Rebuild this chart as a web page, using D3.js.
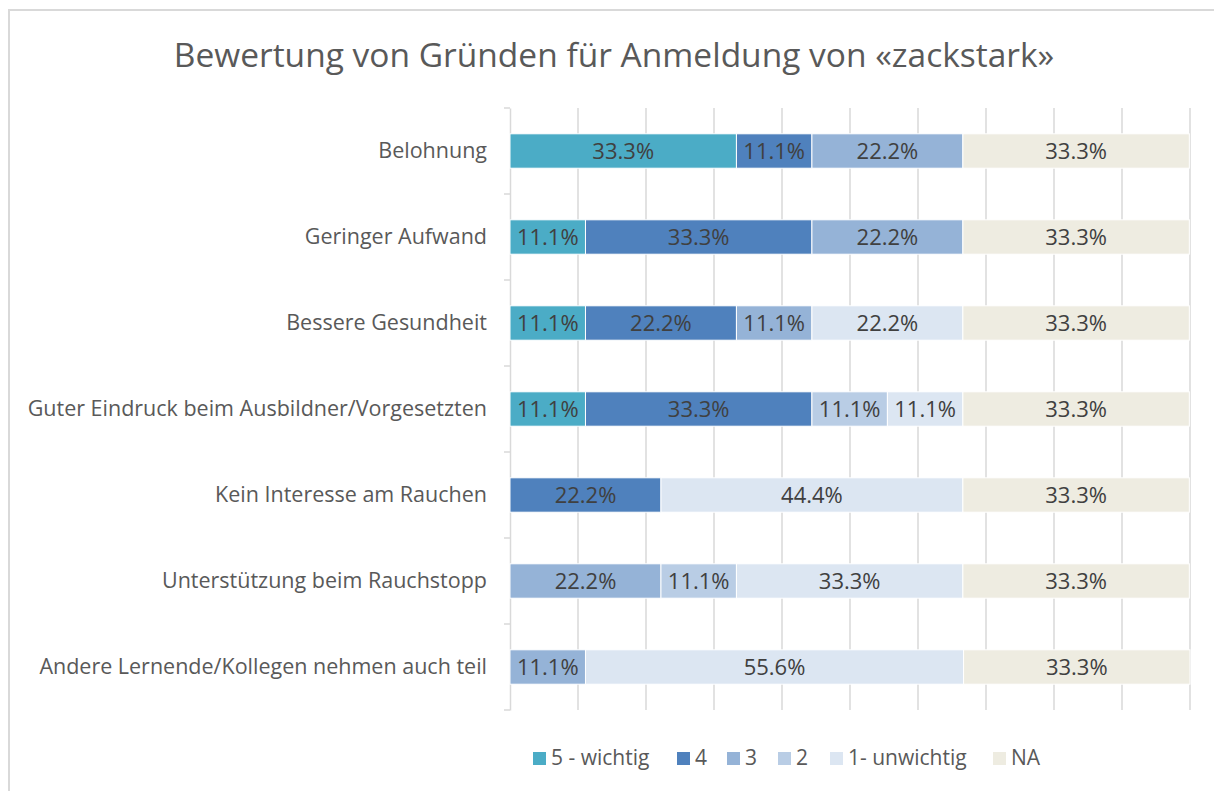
<!DOCTYPE html>
<html>
<head>
<meta charset="utf-8">
<script src="https://cdn.jsdelivr.net/npm/d3@7"></script>
<style>
  body { margin: 0; background: #fff; }
  text { font-family: "Open Sans", sans-serif; }
</style>
</head>
<body>
<svg width="1214" height="791"></svg>
<script>
// categories (top to bottom)
var categories = [
  "Belohnung",
  "Geringer Aufwand",
  "Bessere Gesundheit",
  "Guter Eindruck beim Ausbildner/Vorgesetzten",
  "Kein Interesse am Rauchen",
  "Unterstützung beim Rauchstopp",
  "Andere Lernende/Kollegen nehmen auch teil"
];

var seriesNames = ["5 - wichtig", "4", "3", "2", "1- unwichtig", "NA"];

// percentages per series, one value per category
var s5  = [33.3, 11.1, 11.1, 11.1, 0, 0, 0];
var s4  = [11.1, 33.3, 22.2, 33.3, 22.2, 0, 0];
var s3  = [22.2, 22.2, 11.1, 0, 0, 22.2, 11.1];
var s2  = [0, 0, 0, 11.1, 0, 11.1, 0];
var s1  = [0, 0, 22.2, 11.1, 44.4, 33.3, 55.6];
var sNA = [33.3, 33.3, 33.3, 33.3, 33.3, 33.3, 33.3];

var xTicks = [0, 10, 20, 30, 40, 50, 60, 70, 80, 90, 100];

var colors = ["#4BACC6", "#4F81BD", "#95B3D7", "#B9CDE5", "#DCE6F2", "#EEECE1"];

var svg = d3.select("svg"),
    margin = {top: 108, right: 24, bottom: 81, left: 510},
    width = 1214 - margin.left - margin.right,
    height = 791 - margin.top - margin.bottom;

// chart border
svg.append("path")
    .attr("d", "M9,791 V10 H1214")
    .attr("fill", "none")
    .attr("stroke", "#D9D9D9")
    .attr("stroke-width", 2);

svg.append("text")
    .attr("x", 614)
    .attr("y", 67)
    .attr("text-anchor", "middle")
    .attr("fill", "#595959")
    .style("font-size", "33.5px")
    .text("Bewertung von Gründen für Anmeldung von «zackstark»");

var table = categories.map(function(c, i) {
  return {cat: c, s0: s5[i], s1: s4[i], s2: s3[i], s3: s2[i], s4: s1[i], s5: sNA[i]};
});
var keys = ["s0", "s1", "s2", "s3", "s4", "s5"];
var stacked = d3.stack().keys(keys)(table);

var x = d3.scaleLinear().domain([0, 100]).range([0, width]);
var y = d3.scaleBand().domain(categories).range([0, height]).paddingInner(0.6).paddingOuter(0.3);
var yb = d3.scaleBand().domain(categories).range([0, height]);

var g = svg.append("g")
    .attr("transform", "translate(" + margin.left + "," + margin.top + ")");

// gridlines
g.selectAll(".grid")
  .data(xTicks.slice(1))
  .enter().append("line")
    .attr("x1", function(d) { return x(d); })
    .attr("x2", function(d) { return x(d); })
    .attr("y1", 0)
    .attr("y2", height)
    .attr("stroke", "#D9D9D9")
    .attr("stroke-width", 1.5);

// y axis
var yAxis = g.append("g")
    .call(d3.axisLeft(yb).tickSize(0).tickPadding(23));
yAxis.select(".domain").attr("stroke", "#D9D9D9").attr("stroke-width", 1.5);
yAxis.selectAll("text")
    .attr("fill", "#595959")
    .style("font-size", "21.5px")
    .style("font-family", "'Open Sans', sans-serif");

// axis tick marks at band boundaries
g.selectAll(".btick")
  .data(d3.range(categories.length + 1))
  .enter().append("line")
    .attr("x1", -6).attr("x2", 0)
    .attr("y1", function(i) { return i * yb.step(); })
    .attr("y2", function(i) { return i * yb.step(); })
    .attr("stroke", "#D9D9D9")
    .attr("stroke-width", 1.5);

var layer = g.selectAll(".layer")
  .data(stacked)
  .enter().append("g")
    .attr("fill", function(d, i) { return colors[i]; });

layer.selectAll("rect")
  .data(function(d) { return d.filter(function(p) { return p[1] - p[0] > 0; }); })
  .enter().append("rect")
    .attr("x", function(d) { return x(d[0]); })
    .attr("y", function(d) { return y(d.data.cat); })
    .attr("width", function(d) { return x(d[1]) - x(d[0]); })
    .attr("height", y.bandwidth())
    .attr("stroke", "#fff")
    .attr("stroke-width", 1);

layer.selectAll("text")
  .data(function(d) { return d.filter(function(p) { return p[1] - p[0] > 0; }); })
  .enter().append("text")
    .attr("x", function(d) { return (x(d[0]) + x(d[1])) / 2; })
    .attr("y", function(d) { return y(d.data.cat) + y.bandwidth() / 2; })
    .attr("dy", "0.35em")
    .attr("text-anchor", "middle")
    .attr("fill", "#404040")
    .style("font-size", "22px")
    .text(function(d) { return (d[1] - d[0]).toFixed(1) + "%"; });

// legend
var legendX = [533, 677, 727, 778, 830, 993];
var legend = svg.append("g").attr("transform", "translate(0,758)");
var item = legend.selectAll("g")
  .data(seriesNames)
  .enter().append("g")
    .attr("transform", function(d, i) { return "translate(" + legendX[i] + ",0)"; });
item.append("rect")
    .attr("x", 0).attr("y", -6)
    .attr("width", 13).attr("height", 13)
    .attr("fill", function(d, i) { return colors[i]; });
item.append("text")
    .attr("x", 18)
    .attr("y", 0)
    .attr("dy", "0.35em")
    .attr("fill", "#595959")
    .style("font-size", "21px")
    .text(function(d) { return d; });
</script>
</body>
</html>
